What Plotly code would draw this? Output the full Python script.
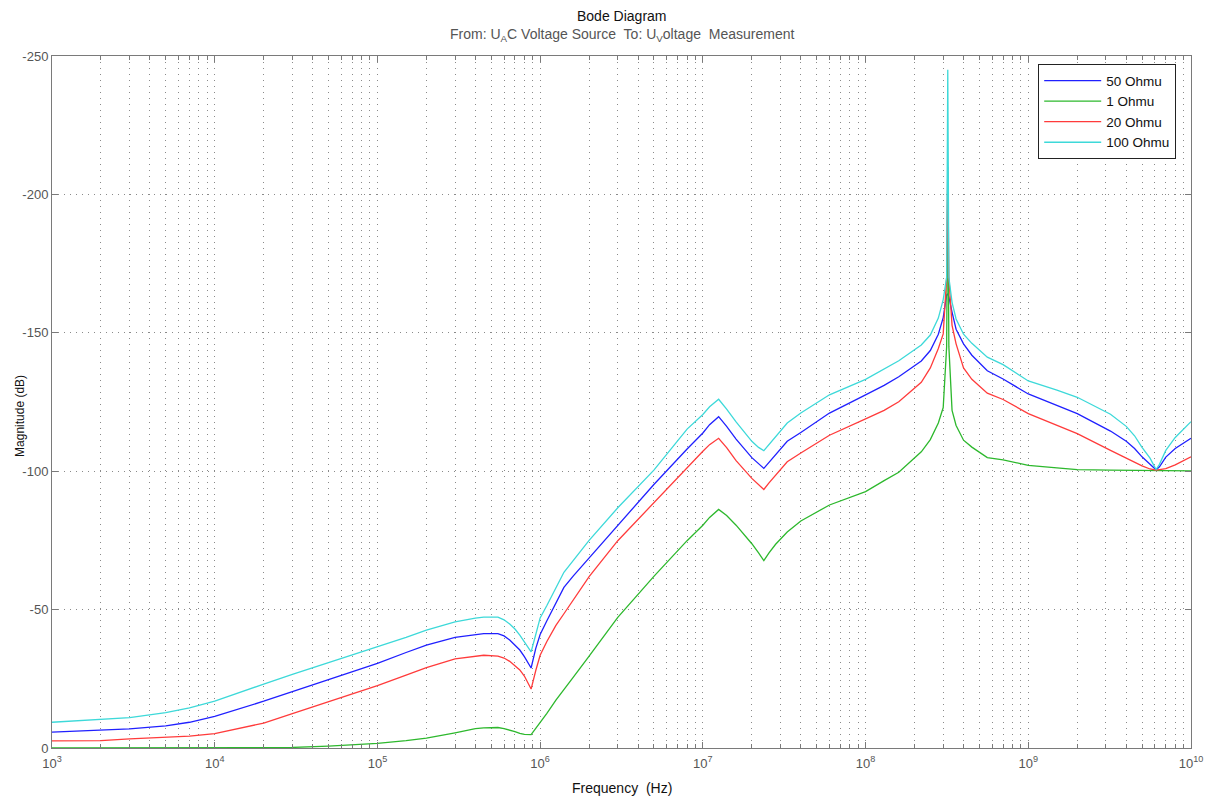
import plotly.graph_objects as go

# Frequency points (Hz) shared by all four magnitude curves
freq_hz = [
    1e3, 2e3, 3e3, 5e3, 7e3, 1e4, 1.5e4, 2e4, 3e4, 5e4, 7e4, 1e5, 1.5e5, 2e5,
    3e5, 4e5, 4.5e5, 5.5e5, 6e5, 6.5e5, 7e5, 7.5e5, 8e5, 8.8e5, 9.4e5, 1e6,
    1.1e6, 1.25e6, 1.4e6, 1.6e6, 2e6, 3e6, 5e6, 8e6, 1e7, 1.1e7, 1.25e7,
    1.4e7, 1.6e7, 2e7, 2.2e7, 2.37e7, 2.55e7, 2.8e7, 3.3e7, 4e7, 6e7, 1e8,
    1.3e8, 1.6e8, 2.2e8, 2.5e8, 2.8e8, 3.0e8, 3.15e8, 3.2e8, 3.25e8, 3.4e8,
    3.6e8, 4e8, 4.5e8, 5.6e8, 7e8, 1e9, 1.5e9, 2e9, 3.2e9, 4e9, 4.5e9, 5e9,
    5.6e9, 5.9e9, 6.1e9, 6.4e9, 7e9, 8e9, 1e10,
]

# Magnitude (dB) for each load resistance
mag_50_ohm = [
    -5.7, -6.4, -6.9, -8.0, -9.3, -11.4, -14.6, -16.9, -20.4, -24.7, -27.6,
    -30.6, -34.5, -37.2, -40.0, -41.0, -41.3, -41.3, -40.5, -39.0, -37.2,
    -35.4, -33.0, -28.9, -36.0, -41.0, -46.0, -52.2, -58.0, -62.2, -68.7,
    -80.7, -95.2, -108.0, -113.8, -116.8, -119.7, -116.2, -111.6, -104.9,
    -102.5, -101.0, -103.2, -106.1, -110.8, -114.0, -121.0, -127.6, -131.0,
    -134.1, -139.8, -143.6, -149.5, -155.5, -163.7, -164.0, -163.0, -157.5,
    -151.3, -146.0, -141.9, -136.3, -133.3, -127.9, -123.7, -120.8, -114.5,
    -110.8, -108.2, -105.2, -102.5, -101.3, -100.5, -101.6, -105.1, -108.2,
    -111.9,
]
mag_1_ohm = [
    0.0, 0.0, 0.0, 0.0, 0.0, 0.0, 0.0, 0.0, -0.2, -0.7, -1.1, -1.7, -2.7,
    -3.6, -5.5, -7.0, -7.3, -7.4, -7.0, -6.5, -5.9, -5.3, -4.9, -4.8, -7.0,
    -9.3, -12.5, -17.3, -21.0, -25.6, -33.2, -47.2, -62.0, -74.9, -80.5,
    -83.3, -86.2, -84.0, -80.5, -73.8, -70.5, -67.7, -70.5, -73.6, -78.0,
    -82.0, -87.8, -92.6, -96.6, -99.6, -107.0, -111.4, -117.4, -123.0,
    -145.0, -208.0, -145.0, -122.0, -116.5, -111.2, -108.7, -104.9, -104.1,
    -102.1, -101.2, -100.6, -100.4, -100.3, -100.3, -100.2, -100.2, -100.2,
    -100.2, -100.2, -100.2, -100.1, -100.1,
]
mag_20_ohm = [
    -2.6, -2.7, -3.3, -3.8, -4.3, -5.2, -7.5, -9.0, -12.4, -16.8, -19.6,
    -22.5, -26.3, -29.0, -32.2, -33.3, -33.5, -33.2, -32.5, -31.3, -29.8,
    -28.2, -26.0, -21.3, -28.0, -33.5, -38.5, -44.3, -48.5, -53.6, -61.9,
    -74.9, -88.6, -101.5, -107.2, -109.6, -111.9, -108.5, -103.8, -97.4,
    -95.0, -93.4, -95.8, -98.7, -103.4, -106.6, -113.0, -118.9, -122.0,
    -125.1, -132.1, -137.3, -144.3, -149.6, -170.0, -210.0, -170.0, -152.7,
    -146.0, -137.3, -133.2, -128.2, -125.9, -120.8, -116.5, -113.6, -107.5,
    -104.7, -103.2, -101.9, -100.8, -100.5, -100.4, -100.6, -100.9, -102.3,
    -105.2,
]
mag_100_ohm = [
    -9.3, -10.3, -11.0, -12.8, -14.5, -16.9, -20.6, -23.1, -26.6, -30.8,
    -33.6, -36.4, -40.0, -42.6, -45.6, -46.9, -47.3, -47.3, -46.3, -44.8,
    -43.0, -40.8, -38.5, -34.7, -41.0, -47.0, -51.5, -58.0, -63.5, -67.8,
    -75.0, -86.8, -100.4, -115.2, -120.5, -123.3, -126.0, -122.4, -117.8,
    -110.8, -108.6, -107.4, -109.6, -112.5, -117.4, -121.0, -127.6, -133.2,
    -137.0, -139.9, -145.6, -149.2, -155.3, -162.0, -170.0, -245.0, -170.0,
    -161.0, -155.0, -149.5, -146.2, -141.2, -138.5, -132.6, -129.3, -126.7,
    -120.6, -116.2, -112.8, -108.6, -104.7, -102.3, -100.6, -102.5, -107.5,
    -112.2, -117.9,
]

series_names = ["50 Ohmu", "1 Ohmu", "20 Ohmu", "100 Ohmu"]
series_values = [mag_50_ohm, mag_1_ohm, mag_20_ohm, mag_100_ohm]
series_colors = ["#2020ff", "#2db82d", "#ff3b3b", "#3dd9d9"]

x_tick_vals = [1e3, 1e4, 1e5, 1e6, 1e7, 1e8, 1e9, 1e10]
x_tick_text = ["10<sup>%d</sup>" % e for e in range(3, 11)]
y_tick_vals = [0, -50, -100, -150, -200, -250]
y_tick_text = ["0", "-50", "-100", "-150", "-200", "-250"]

FONT = "Liberation Sans, Arial, Helvetica, sans-serif"
GRID = "#8a8a8a"
AXIS = "#7a7a7a"
DOTS = "1px,5px"

fig = go.Figure()
for name, vals, color in zip(series_names, series_values, series_colors):
    fig.add_trace(go.Scatter(
        x=freq_hz, y=vals, mode="lines", name=name,
        line=dict(color=color, width=1.3),
    ))

fig.update_layout(
    width=1215, height=799,
    margin=dict(l=52, r=22, t=56, b=51),
    paper_bgcolor="white", plot_bgcolor="white",
    font=dict(family=FONT, size=12, color="#222"),
    showlegend=True,
    legend=dict(
        x=0.987, y=0.988, xanchor="right", yanchor="top",
        bgcolor="white", bordercolor="#222", borderwidth=1,
        font=dict(family=FONT, size=13.5, color="#111"),
        itemwidth=57, tracegroupgap=0,
    ),
)

fig.update_xaxes(
    type="log", range=[3, 10],
    tickvals=x_tick_vals, ticktext=x_tick_text,
    tickfont=dict(family=FONT, size=13, color="#555"),
    ticklabelstandoff=3,
    ticks="inside", ticklen=6, tickcolor=AXIS,
    showline=True, linecolor=AXIS, linewidth=1, mirror="ticks",
    showgrid=True, gridcolor=GRID, griddash=DOTS, gridwidth=1,
    minor=dict(dtick="D1", ticks="inside", ticklen=4, tickcolor=AXIS,
               showgrid=True, gridcolor=GRID, griddash=DOTS, gridwidth=1),
    zeroline=False,
)
fig.update_yaxes(
    range=[0, -250],
    tickvals=y_tick_vals, ticktext=y_tick_text,
    tickfont=dict(family=FONT, size=13, color="#555"),
    ticks="inside", ticklen=6, tickcolor=AXIS,
    showline=True, linecolor=AXIS, linewidth=1, mirror="ticks",
    showgrid=True, gridcolor=GRID, griddash=DOTS, gridwidth=1,
    zeroline=False,
)

# Titles and axis labels
fig.add_annotation(
    text="Bode Diagram", xref="paper", yref="paper", x=0.5, y=1.0578,
    xanchor="center", yanchor="middle", showarrow=False,
    font=dict(family=FONT, size=14, color="#111"),
)
fig.add_annotation(
    text="From: U<sub>A</sub>C Voltage Source\u00a0 To: U<sub>V</sub>oltage\u00a0 Measurement",
    xref="paper", yref="paper", x=0.5, y=1.0303,
    xanchor="center", yanchor="middle", showarrow=False,
    font=dict(family=FONT, size=14, color="#555"),
)
fig.add_annotation(
    text="Frequency\u00a0 (Hz)", xref="paper", yref="paper", x=0.5, y=-0.0578,
    xanchor="center", yanchor="middle", showarrow=False,
    font=dict(family=FONT, size=14, color="#111"),
)
fig.add_annotation(
    text="Magnitude (dB)", xref="paper", yref="paper", x=-0.028, y=0.48,
    xanchor="center", yanchor="middle", textangle=-90, showarrow=False,
    font=dict(family=FONT, size=12, color="#111"),
)

fig.write_html("out.html")
